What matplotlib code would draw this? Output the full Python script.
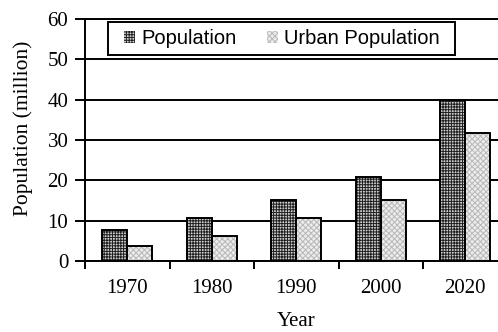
import matplotlib
matplotlib.use("Agg")
import matplotlib.pyplot as plt
from matplotlib.patches import Rectangle
import numpy as np

years = ["1970", "1980", "1990", "2000", "2020"]
population = [7.8, 10.7, 15.2, 20.9, 40.0]
urban_population = [3.7, 6.3, 10.7, 15.2, 31.8]
series_labels = ["Population", "Urban Population"]
y_ticks = [0, 10, 20, 30, 40, 50, 60]

plt.rcParams['hatch.linewidth'] = 0.7
serif = ['Liberation Serif', 'DejaVu Serif']
sans = ['Liberation Sans', 'DejaVu Sans']

fig = plt.figure(figsize=(4.98, 3.32), dpi=100)
W, H = 498, 332
ax = fig.add_axes([85 / W, 1 - 261 / H, 422.5 / W, 242 / H])

x = np.arange(len(years))
bw = 0.295
b1 = ax.bar(x - bw / 2, population, bw, facecolor='#cfcfcf', edgecolor='#202020',
            hatch='++++++', linewidth=0, zorder=3, label=series_labels[0])
b2 = ax.bar(x + bw / 2, urban_population, bw, facecolor='#ececec', edgecolor='#b8b8b8',
            hatch='xxxxxx', linewidth=0, zorder=3, label=series_labels[1])
ax.bar(x - bw / 2, population, bw, fill=False, edgecolor='black', linewidth=1.4, zorder=4)
ax.bar(x + bw / 2, urban_population, bw, fill=False, edgecolor='black', linewidth=1.4, zorder=4)

ax.set_xlim(-0.5, len(years) - 0.5)
ax.set_ylim(0, 60)
ax.set_yticks(y_ticks)
ax.set_yticklabels([str(v) for v in y_ticks], fontfamily=serif, fontsize=15)
ax.yaxis.grid(True, color='black', linewidth=1.4, zorder=1)
ax.set_axisbelow(True)

ax.set_xticks(np.arange(len(years) + 1) - 0.5)
ax.set_xticklabels([])
ax.set_xticks(x, minor=True)
ax.set_xticklabels(years, minor=True, fontfamily=serif, fontsize=15)
ax.tick_params(axis='x', which='minor', length=0, pad=13)
ax.tick_params(axis='x', which='major', length=6, width=1.4, direction='out')
ax.tick_params(axis='y', length=7, width=1.4, direction='out', pad=5)

for side in ['left', 'bottom', 'top', 'right']:
    ax.spines[side].set_linewidth(1.4)

ax.set_xlabel("Year", fontfamily=serif, fontsize=15)
ax.xaxis.set_label_coords(0.5, (261 - 312) / 242)
ax.set_ylabel("Population (million)", fontfamily=serif, fontsize=15.5)
ax.yaxis.set_label_coords((33 - 85) / 422.5, (261 - 128) / 242)

# legend frame
fig.patches.append(Rectangle((108 / W, 1 - 55 / H), (455 - 108) / W, 33 / H,
                             transform=fig.transFigure, facecolor='white',
                             edgecolor='black', linewidth=1.4, zorder=5))
leg = fig.legend(handles=[b1, b2], labels=series_labels, ncol=2, loc='center left',
                 bbox_to_anchor=(124 / W, 1 - 38.5 / H), bbox_transform=fig.transFigure,
                 borderaxespad=0, borderpad=0, frameon=False,
                 prop={'family': sans, 'size': 14.5}, handlelength=0.57, handleheight=0.57,
                 handletextpad=0.3, columnspacing=1.5)
leg.set_zorder(6)

fig.savefig("out.png", dpi=100)
